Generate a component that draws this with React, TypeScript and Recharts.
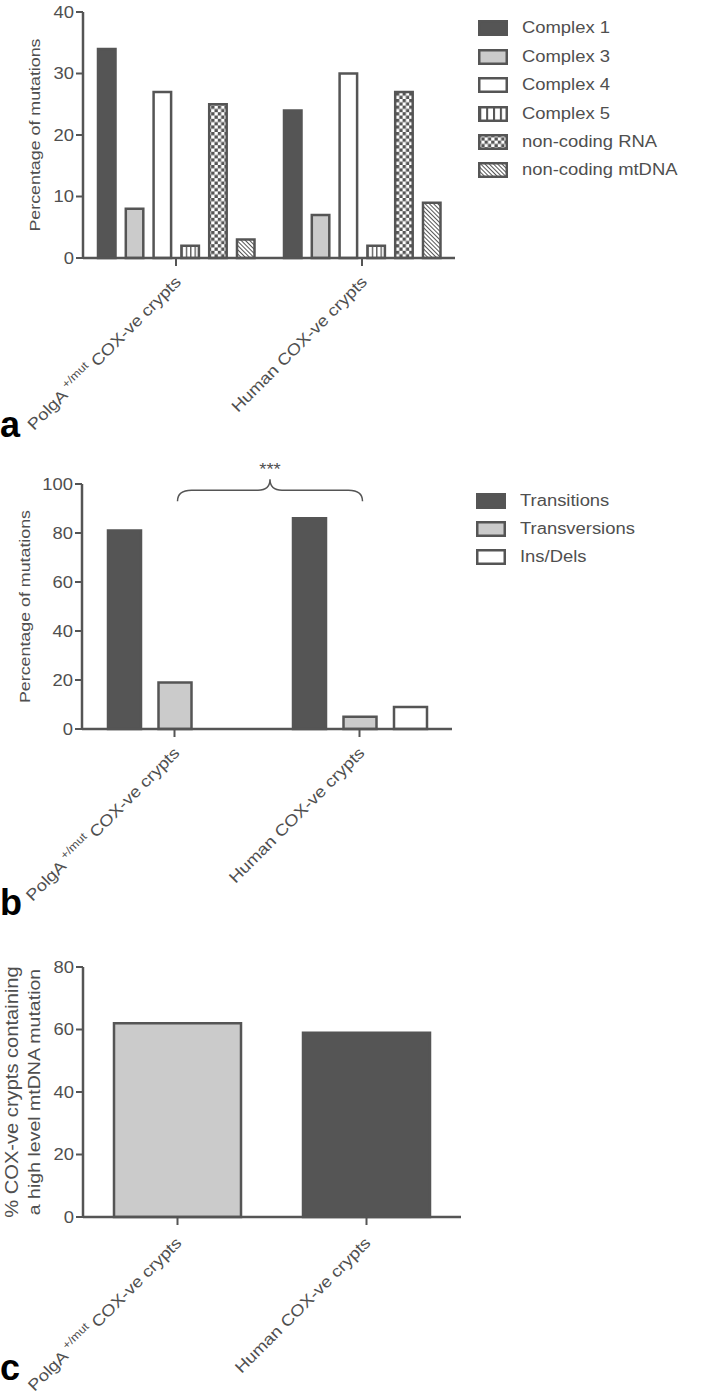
import React from 'react';
import { BarChart, Bar, XAxis, YAxis, Legend, Cell, ReferenceLine } from 'recharts';

const FONT = "'Liberation Sans', Arial, Helvetica, sans-serif";
const FS = 16;
const SX = 1.15;
const TXT = '#4f4f4f';
const DARK = '#555555';
const LIGHT = '#cbcbcb';
const WHITE = '#ffffff';

// ---------- shared categories ----------
const categories = ['PolgA+/mut COX-ve crypts', 'Human COX-ve crypts'];

// ---------- panel a ----------
const regionSeries = ['Complex 1', 'Complex 3', 'Complex 4', 'Complex 5', 'non-coding RNA', 'non-coding mtDNA'];
const complex1 = [34, 24];
const complex3 = [8, 7];
const complex4 = [27, 30];
const complex5 = [2, 2];
const nonCodingRNA = [25, 27];
const nonCodingMtDNA = [3, 9];
const ticksA = [0, 10, 20, 30, 40];

// ---------- panel b ----------
const typeSeries = ['Transitions', 'Transversions', 'Ins/Dels'];
const transitions = [81, 86];
const transversions = [19, 5];
const insDels = [0, 9];
const ticksB = [0, 20, 40, 60, 80, 100];
const braceLevel = 93;
const braceLabel = '***';

// ---------- panel c ----------
const highLevelMutation = [62, 59];
const ticksC = [0, 20, 40, 60, 80];

// ---------- data tables built from the arrays ----------
const seriesA = [complex1, complex3, complex4, complex5, nonCodingRNA, nonCodingMtDNA];
const fillsA = [DARK, LIGHT, WHITE, 'url(#vstripe)', 'url(#checker)', 'url(#diag)'];
const dataA = categories.map((cat, i) => {
  const row: any = { cat };
  seriesA.forEach((s, j) => (row['k' + j] = s[i]));
  return row;
});

const seriesB = [transitions, transversions, insDels];
const fillsB = [DARK, LIGHT, WHITE];
const dataB = categories.map((cat, i) => {
  const row: any = { cat };
  seriesB.forEach((s, j) => (row['k' + j] = s[i]));
  return row;
});

const fillsC = [LIGHT, DARK];
const dataC = categories.map((cat, i) => ({ cat, v: highLevelMutation[i] }));

// ---------- custom renderers ----------
const YTick = (props: any) => {
  const { x, y, payload } = props;
  return (
    <g transform={`translate(${x},${y})`}>
      <text transform={`scale(${SX},1)`} x={0} y={0} dy={5.7} textAnchor="end" fill={TXT} fontSize={FS} fontFamily={FONT}>
        {payload.value}
      </text>
    </g>
  );
};

const makeXTick = (dx: number, dy: number) => (props: any) => {
  const { x, y, payload } = props;
  const v: string = String(payload.value);
  const parts = v.split('+/mut');
  return (
    <g transform={`translate(${x + dx},${y + dy}) rotate(-45) scale(${SX},1)`}>
      <text x={0} y={0} textAnchor="end" fill={TXT} fontSize={FS} fontFamily={FONT}>
        {parts.length > 1 ? (
          <>
            {parts[0]}
            <tspan fontSize={11} dy={-7}>{' +/mut'}</tspan>
            <tspan dy={7}>{parts[1]}</tspan>
          </>
        ) : (
          v
        )}
      </text>
    </g>
  );
};

const makeYLabel = (lines: { text: string; x: number; fs: number }[], fallback: { y: number; height: number }) => (props: any) => {
  const vb = props && props.viewBox ? props.viewBox : fallback;
  const cy = vb.y + vb.height / 2;
  return (
    <g>
      {lines.map((l) => (
        <text
          key={l.text}
          transform={`translate(${l.x},${cy}) rotate(-90) scale(${SX},1)`}
          textAnchor="middle"
          fill={TXT}
          fontSize={l.fs}
          fontFamily={FONT}
        >
          {l.text}
        </text>
      ))}
    </g>
  );
};

// legend rows are drawn in the order of the series arrays
const makeLegend = (names: string[], fills: string[], rowH: number) => () => (
  <div style={{ fontFamily: FONT, fontSize: FS, color: TXT }}>
    {names.map((name, idx) => (
      <div key={name} style={{ height: rowH, display: 'flex', alignItems: 'center' }}>
        <svg width={30} height={16} style={{ display: 'block' }}>
          <rect x={1.25} y={1.25} width={27.5} height={13.5} fill={fills[idx]} stroke={DARK} strokeWidth={2.5} />
        </svg>
        <span
          style={{
            marginLeft: 14,
            display: 'inline-block',
            transform: `scaleX(${SX})`,
            transformOrigin: 'left center',
            whiteSpace: 'nowrap',
            lineHeight: '16px',
          }}
        >
          {name}
        </span>
      </div>
    ))}
  </div>
);

const Brace = (props: any) => {
  const { x1, y1, x2 } = props;
  const a = x1 + 3;
  const b = x2 + 3;
  const m = (a + b) / 2;
  const h = 11;
  const d = `M${a},${y1} Q${a},${y1 - h} ${a + 14},${y1 - h} L${m - 12},${y1 - h} Q${m},${y1 - h} ${m},${y1 - 2 * h} Q${m},${y1 - h} ${m + 12},${y1 - h} L${b - 14},${y1 - h} Q${b},${y1 - h} ${b},${y1}`;
  return (
    <g>
      <path d={d} fill="none" stroke={DARK} strokeWidth={1.5} />
      <text transform={`translate(${m},${y1 - 2 * h - 4}) scale(${SX},1)`} textAnchor="middle" fill={TXT} fontSize={FS} fontFamily={FONT}>
        {braceLabel}
      </text>
    </g>
  );
};

const axisLine = { stroke: DARK, strokeWidth: 2.5 };
const tickLine = { stroke: DARK, strokeWidth: 2 };

export default function App() {
  return (
    <div style={{ position: 'absolute', left: 0, top: 0, width: 708, height: 1395, background: '#fff' }}>
      <svg width={708} height={1395} style={{ position: 'absolute', left: 0, top: 0 }}>
        <defs>
          <pattern id="vstripe" patternUnits="objectBoundingBox" patternContentUnits="objectBoundingBox" width={0.25} height={1}>
            <rect x={0} y={0} width={0.25} height={1} fill={WHITE} />
            <rect x={0} y={0} width={0.075} height={1} fill={DARK} />
          </pattern>
          <pattern id="checker" patternUnits="userSpaceOnUse" width={6.6} height={6.6}>
            <rect x={0} y={0} width={6.6} height={6.6} fill={WHITE} />
            <rect x={0} y={0} width={3.3} height={3.3} fill={DARK} />
            <rect x={3.3} y={3.3} width={3.3} height={3.3} fill={DARK} />
          </pattern>
          <pattern id="diag" patternUnits="userSpaceOnUse" width={3} height={3} patternTransform="rotate(-45)">
            <rect x={0} y={0} width={3} height={3} fill={WHITE} />
            <rect x={0} y={0} width={1} height={3} fill={DARK} />
          </pattern>
        </defs>
        <text x={0} y={437} fontSize={36} fontWeight="bold" fontFamily={FONT} fill="#000">a</text>
        <text x={0} y={915} fontSize={36} fontWeight="bold" fontFamily={FONT} fill="#000">b</text>
        <text x={0} y={1380} fontSize={36} fontWeight="bold" fontFamily={FONT} fill="#000">c</text>
      </svg>

      {/* panel a */}
      <div style={{ position: 'absolute', left: 0, top: 0 }}>
        <BarChart width={708} height={460} data={dataA} margin={{ top: 12, right: 253, bottom: 0, left: 0 }} barSize={17.5} barGap={10.3}>
          <XAxis dataKey="cat" type="category" height={202} interval={0} axisLine={axisLine} tickLine={tickLine} tickSize={8} tick={makeXTick(6, 15)} />
          <YAxis
            width={83}
            domain={[0, 40]}
            ticks={ticksA}
            interval={0}
            axisLine={axisLine}
            tickLine={tickLine}
            tickSize={7}
            tick={<YTick />}
            label={makeYLabel([{ text: 'Percentage of mutations', x: 40, fs: 15.5 }], { y: 12, height: 246 })}
          />
          {regionSeries.map((name, j) => (
            <Bar key={name} dataKey={'k' + j} name={name} fill={fillsA[j]} stroke={DARK} strokeWidth={2.5} isAnimationActive={false} />
          ))}
          <Legend
            layout="vertical"
            align="center"
            verticalAlign="middle"
            wrapperStyle={{ left: 478, top: 14.3, width: 230 }}
            content={makeLegend(regionSeries, fillsA, 28.4)}
          />
        </BarChart>
      </div>

      {/* panel b */}
      <div style={{ position: 'absolute', left: 0, top: 460 }}>
        <BarChart width={708} height={460} data={dataB} margin={{ top: 24, right: 256, bottom: 0, left: 0 }} barSize={33} barGap={17.5}>
          <XAxis dataKey="cat" type="category" height={191} interval={0} axisLine={axisLine} tickLine={tickLine} tickSize={8} tick={makeXTick(6, 15)} />
          <YAxis
            width={82}
            domain={[0, 100]}
            ticks={ticksB}
            interval={0}
            axisLine={axisLine}
            tickLine={tickLine}
            tickSize={7}
            tick={<YTick />}
            label={makeYLabel([{ text: 'Percentage of mutations', x: 30, fs: 15.5 }], { y: 24, height: 245 })}
          />
          {typeSeries.map((name, j) => (
            <Bar key={name} dataKey={'k' + j} name={name} fill={fillsB[j]} stroke={DARK} strokeWidth={2.5} isAnimationActive={false} />
          ))}
          <ReferenceLine
            segment={[
              { x: categories[0], y: braceLevel },
              { x: categories[1], y: braceLevel },
            ]}
            ifOverflow="visible"
            shape={Brace}
          />
          <Legend
            layout="vertical"
            align="center"
            verticalAlign="middle"
            wrapperStyle={{ left: 476, top: 26.5, width: 230 }}
            content={makeLegend(typeSeries, fillsB, 28.3)}
          />
        </BarChart>
      </div>

      {/* panel c */}
      <div style={{ position: 'absolute', left: 0, top: 920 }}>
        <BarChart width={708} height={475} data={dataC} margin={{ top: 47, right: 247, bottom: 0, left: 0 }} barSize={127}>
          <XAxis dataKey="cat" type="category" height={178} interval={0} axisLine={axisLine} tickLine={tickLine} tickSize={8} tick={makeXTick(5, 17)} />
          <YAxis
            width={83}
            domain={[0, 80]}
            ticks={ticksC}
            interval={0}
            axisLine={axisLine}
            tickLine={tickLine}
            tickSize={7}
            tick={<YTick />}
            label={makeYLabel(
              [
                { text: '% COX-ve crypts containing', x: 18, fs: 17.5 },
                { text: 'a high level mtDNA mutation', x: 39.6, fs: 17 },
              ],
              { y: 47, height: 250 }
            )}
          />
          <Bar dataKey="v" name="high level" stroke={DARK} strokeWidth={2.5} isAnimationActive={false}>
            {highLevelMutation.map((_, i) => (
              <Cell key={i} fill={fillsC[i]} />
            ))}
          </Bar>
        </BarChart>
      </div>
    </div>
  );
}
